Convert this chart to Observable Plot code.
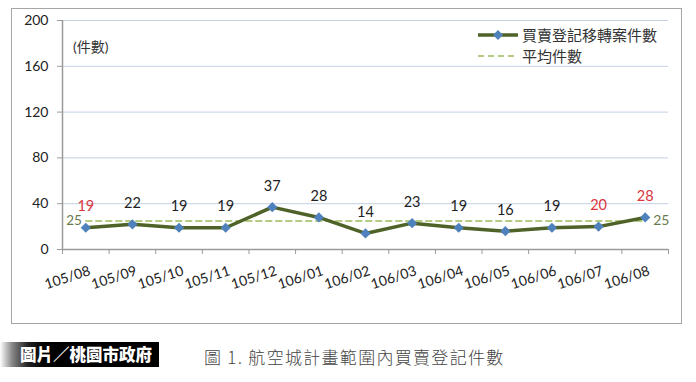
<!DOCTYPE html>
<html><head><meta charset="utf-8">
<script src="https://cdn.jsdelivr.net/npm/d3@7"></script>
<script src="https://cdn.jsdelivr.net/npm/@observablehq/plot@0.6"></script>
<style>
body{margin:0;background:#fff;font-family:Lato,"Noto Sans CJK TC",sans-serif;}
#wrap{position:relative;width:696px;height:382px;overflow:hidden;}
#frame{position:absolute;left:11px;top:8px;width:671px;height:316px;border:1px solid #a6a6a6;box-sizing:border-box;}
#chart{position:absolute;left:0;top:0;}
#unit{position:absolute;left:73px;top:36px;font-size:14px;color:#333;}
.leg{position:absolute;left:478px;font-size:15px;color:#333;display:flex;align-items:center;font-family:"Noto Sans CJK TC",sans-serif;}
#badge{position:absolute;left:0;top:342px;width:159px;height:25px;background:linear-gradient(to right,#fff 0,#888 12px,#222 28px,#000 45px);color:#fff;font-weight:900;font-size:16.5px;line-height:25px;text-align:right;padding-right:7px;box-sizing:border-box;font-family:"Noto Sans CJK TC",sans-serif;}
#cap{position:absolute;left:204px;top:344px;font-size:17px;letter-spacing:1.3px;line-height:26px;color:#444;font-family:"Noto Sans CJK TC",sans-serif;font-weight:300;}
</style></head>
<body>
<div id="wrap">
<div id="frame"></div>
<div id="chart"></div>
<div id="unit">(件數)</div>
<div class="leg" style="top:24px"><svg width="44" height="20"><line x1="0" y1="10" x2="40" y2="10" stroke="#4f6228" stroke-width="3.5"/><path d="M20,5 L25,10 L20,15 L15,10Z" fill="#4f81bd"/></svg>買賣登記移轉案件數</div>
<div class="leg" style="top:45px"><svg width="44" height="20"><line x1="0" y1="10" x2="38" y2="10" stroke="#9bbb59" stroke-width="1.5" stroke-dasharray="6,4"/></svg>平均件數</div>
<div id="badge">圖片／桃園市政府</div>
<div id="cap">圖 1. 航空城計畫範圍內買賣登記件數</div>
</div>
<script>
const months = ["105/08","105/09","105/10","105/11","105/12","106/01","106/02","106/03","106/04","106/05","106/06","106/07","106/08"];
const counts = [19,22,19,19,37,28,14,23,19,16,19,20,28];
const average = 25;
const highlighted = ["105/08","106/07","106/08"];
const yTicks = [0,40,80,120,160,200];

const data = months.map((m,i)=>({i, month:m, v:counts[i], hi:highlighted.includes(m)}));
const avgData = months.map((m,i)=>({i, v:average}));
const boundaries = d3.range(months.length+1).map(i=>i-0.5);
const font = "Lato, 'Noto Sans CJK TC', sans-serif";

const chart = Plot.plot({
  width:696, height:335,
  marginLeft:62, marginRight:28, marginTop:20, marginBottom:86,
  style:{fontFamily:font, background:"transparent"},
  x:{domain:[-0.5, months.length-0.5], axis:null},
  y:{domain:[0,200], axis:null},
  marks:[
    Plot.gridY(yTicks.filter(t=>t>0), {stroke:"#c3d1e3", strokeOpacity:1, strokeWidth:1}),
    Plot.ruleX([-0.5], {stroke:"#9a9a9a", strokeWidth:1.5}),
    Plot.ruleY([0], {stroke:"#9a9a9a", strokeWidth:1.5}),
    Plot.axisY({ticks:yTicks, label:null, tickSize:5, tickPadding:9, fontSize:14, fill:"#222", stroke:"#9a9a9a", tickFormat:d=>d}),
    Plot.axisX({ticks:boundaries, label:null, tickSize:5, tickFormat:()=>"", stroke:"#9a9a9a"}),
    Plot.text(data, {x:"i", y:()=>0, text:"month", rotate:-18, textAnchor:"end", lineAnchor:"middle", dx:4, dy:21, fontSize:14, fill:"#222"}),
    Plot.line(avgData, {x:"i", y:"v", stroke:"#9bbb59", strokeWidth:1.5, strokeDasharray:"6,4"}),
    Plot.line(data, {x:"i", y:"v", stroke:"#4f6228", strokeWidth:3.5}),
    Plot.dot(data, {x:"i", y:"v", symbol:"diamond2", r:4.6, fill:"#4f81bd", stroke:"none"}),
    Plot.text(data, {x:"i", y:"v", text:d=>String(d.v), dy:-21, fontSize:14.5, fill:d=>d.hi?"#d9363e":"#222"}),
    Plot.text([avgData[0]], {x:"i", y:"v", text:()=>String(average), dx:-4, dy:0, textAnchor:"end", fontSize:13.5, fill:"#6a7a4e"}),
    Plot.text([avgData[avgData.length-1]], {x:"i", y:"v", text:()=>String(average), dx:8, dy:0, textAnchor:"start", fontSize:14, fill:"#6a7a4e"})
  ]
});
document.getElementById("chart").appendChild(chart);
</script>
</body></html>
